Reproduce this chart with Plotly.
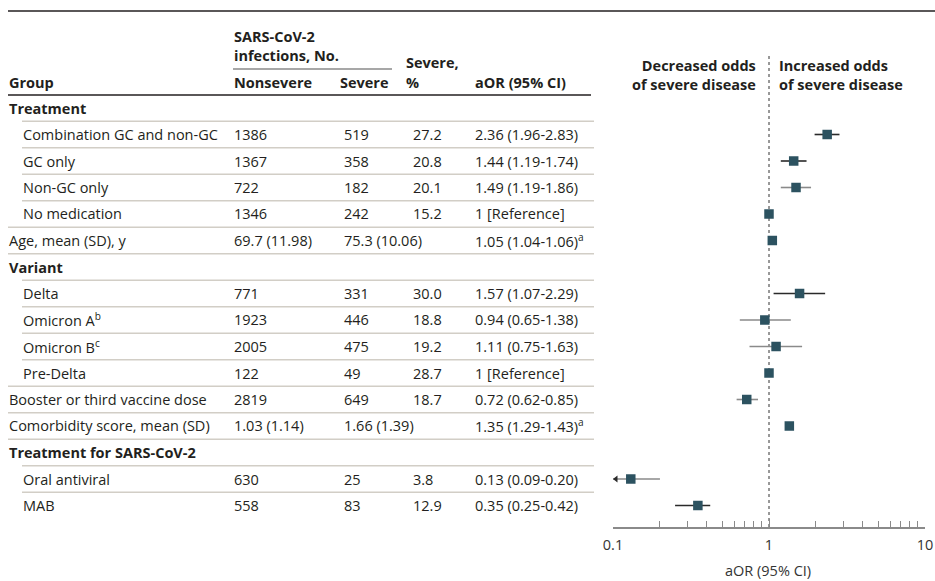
import plotly.graph_objects as go
import math

# ---------------- data ----------------
labels = ["Treatment", "Combination GC and non-GC", "GC only", "Non-GC only", "No medication",
          "Age, mean (SD), y", "Variant", "Delta", "Omicron A<sup>b</sup>", "Omicron B<sup>c</sup>",
          "Pre-Delta", "Booster or third vaccine dose", "Comorbidity score, mean (SD)",
          "Treatment for SARS-CoV-2", "Oral antiviral", "MAB"]
is_group = [1, 0, 0, 0, 0, 0, 1, 0, 0, 0, 0, 0, 0, 1, 0, 0]
indented = [0, 1, 1, 1, 1, 0, 0, 1, 1, 1, 1, 0, 0, 0, 1, 1]
nonsevere = ["", "1386", "1367", "722", "1346", "69.7 (11.98)", "", "771", "1923", "2005", "122",
             "2819", "1.03 (1.14)", "", "630", "558"]
severe = ["", "519", "358", "182", "242", "75.3 (10.06)", "", "331", "446", "475", "49",
          "649", "1.66 (1.39)", "", "25", "83"]
severe_pct = ["", "27.2", "20.8", "20.1", "15.2", "", "", "30.0", "18.8", "19.2", "28.7",
              "18.7", "", "", "3.8", "12.9"]
aor_text = ["", "2.36 (1.96-2.83)", "1.44 (1.19-1.74)", "1.49 (1.19-1.86)", "1 [Reference]",
            "1.05 (1.04-1.06)<sup>a</sup>", "", "1.57 (1.07-2.29)", "0.94 (0.65-1.38)",
            "1.11 (0.75-1.63)", "1 [Reference]", "0.72 (0.62-0.85)", "1.35 (1.29-1.43)<sup>a</sup>",
            "", "0.13 (0.09-0.20)", "0.35 (0.25-0.42)"]
aor = [None, 2.36, 1.44, 1.49, 1, 1.05, None, 1.57, 0.94, 1.11, 1, 0.72, 1.35, None, 0.13, 0.35]
ci_lo = [None, 1.96, 1.19, 1.19, None, 1.04, None, 1.07, 0.65, 0.75, None, 0.62, 1.29, None, 0.09, 0.25]
ci_hi = [None, 2.83, 1.74, 1.86, None, 1.06, None, 2.29, 1.38, 1.63, None, 0.85, 1.43, None, 0.20, 0.42]
x_ticks = [0.1, 1, 10]
x_tick_labels = ["0.1", "1", "10"]
x_minor = [0.2, 0.3, 0.4, 0.5, 0.6, 0.7, 0.8, 0.9, 2, 3, 4, 5, 6, 7, 8, 9]
axis_min, axis_max = 0.1, 10

# ---------------- styles ----------------
W, H = 935, 581
FONT = "Open Sans"
FS = 14.5
TXT = "#231f20"
MARK = "#2c5260"
ci_dark = [0, 1, 1, 0, 0, 1, 0, 1, 0, 0, 0, 0, 1, 0, 0, 1]
ROW0, ROWH = 108.0, 26.5   # pixel y of row 0 and row spacing
AX_Y = 527.0               # pixel y of x-axis line
TOP_Y = 55.0               # top of forest plot area


def py(p):
    return 1 - p / H


def px(p):
    return p / W


def row_pix(i):
    return ROW0 + ROWH * i


fig = go.Figure()

# reference dotted line
fig.add_trace(go.Scatter(x=[1, 1], y=[(56 - ROW0) / ROWH, (AX_Y - ROW0) / ROWH],
                         mode="lines", line=dict(color="#333333", width=1, dash="dot"),
                         hoverinfo="skip"))

# CI lines
for i, (lo, hi) in enumerate(zip(ci_lo, ci_hi)):
    if lo is None:
        continue
    col = "#2a2a2a" if ci_dark[i] else "#8a8a8a"
    lo_c = max(lo, axis_min)
    fig.add_trace(go.Scatter(x=[lo_c, hi], y=[i, i], mode="lines",
                             line=dict(color=col, width=1.6), hoverinfo="skip"))
    if lo < axis_min:
        fig.add_trace(go.Scatter(x=[axis_min * 1.045], y=[i], mode="markers",
                                 marker=dict(symbol="triangle-left", size=6, color="#2a2a2a"),
                                 cliponaxis=False, hoverinfo="skip"))

# point estimates
pts = [(v, i) for i, v in enumerate(aor) if v is not None]
fig.add_trace(go.Scatter(x=[p[0] for p in pts], y=[p[1] for p in pts], mode="markers",
                         marker=dict(symbol="square", size=9.5, color=MARK, line=dict(width=0)),
                         cliponaxis=False, hoverinfo="skip"))

ann = []
shapes = []


def txt(x, y, s, anchor="left", bold=False, size=FS, color=TXT, align="left"):
    ann.append(dict(x=px(x), y=py(y), xref="paper", yref="paper", text=(f"<b>{s}</b>" if bold else s),
                    showarrow=False, xanchor=anchor, yanchor="middle", align=align, borderpad=0,
                    font=dict(family=FONT, size=size, color=color)))


# header
txt(233, 46, "SARS-CoV-2<br>infections, No.", bold=True)
txt(405, 62, "Severe,", bold=True)
txt(8, 83, "Group", bold=True)
txt(233, 83, "Nonsevere", bold=True)
txt(339, 83, "Severe", bold=True)
txt(405, 83, "%", bold=True)
txt(474, 83, "aOR (95% CI)", bold=True)
txt(757, 74.5, "Decreased odds<br>of severe disease", anchor="right", bold=True, align="right")
txt(778, 74.5, "Increased odds<br>of severe disease", bold=True)

# rows
for i, lab in enumerate(labels):
    y = row_pix(i)
    txt(22 if indented[i] else 8, y, lab, bold=bool(is_group[i]))
    if nonsevere[i]:
        txt(233, y, nonsevere[i])
    if severe[i]:
        txt(343, y, severe[i])
    if severe_pct[i]:
        txt(412, y, severe_pct[i])
    if aor_text[i]:
        txt(474, y, aor_text[i])
    if i >= 1:
        ys = py(y - ROWH / 2)
        shapes.append(dict(type="line", xref="paper", yref="paper", x0=px(22 if indented[i] else 8),
                           x1=px(594), y0=ys, y1=ys, line=dict(color="#d2cec6", width=1.3)))

# rules
shapes.append(dict(type="line", xref="paper", yref="paper", x0=px(8), x1=1, y0=py(11), y1=py(11),
                   line=dict(color="#231f20", width=1.6)))
shapes.append(dict(type="line", xref="paper", yref="paper", x0=px(8), x1=px(591), y0=py(95), y1=py(95),
                   line=dict(color="#231f20", width=1.6)))
shapes.append(dict(type="line", xref="paper", yref="paper", x0=px(233), x1=px(392), y0=py(69), y1=py(69),
                   line=dict(color="#8a8a8a", width=1.4)))

# axis title
txt(768, 570, "aOR (95% CI)", anchor="center", color="#333333")

fig.update_layout(
    width=W, height=H, margin=dict(l=0, r=0, t=0, b=0, autoexpand=False),
    paper_bgcolor="white", plot_bgcolor="white", showlegend=False,
    annotations=ann, shapes=shapes,
    xaxis=dict(type="log", range=[math.log10(axis_min), math.log10(axis_max)],
               domain=[px(613), px(925)], showgrid=False, zeroline=False, automargin=False,
               showline=True, linecolor="#8a8a8a", linewidth=1.5,
               tickmode="array", tickvals=x_ticks, ticktext=x_tick_labels,
               ticks="inside", ticklen=8, tickwidth=1.3, tickcolor="#8a8a8a",
               ticklabelstandoff=4,
               tickfont=dict(family=FONT, size=FS, color="#333333"),
               minor=dict(tickmode="array", tickvals=x_minor, ticks="inside", ticklen=6,
                          tickwidth=1.2, tickcolor="#8a8a8a", showgrid=False),
               fixedrange=True),
    yaxis=dict(range=[(AX_Y - ROW0) / ROWH, (TOP_Y - ROW0) / ROWH], domain=[py(AX_Y), py(TOP_Y)],
               visible=False, fixedrange=True, automargin=False),
)

fig.write_html("out.html", config={"displayModeBar": False},
               post_script="document.body.style.margin='0';document.body.style.overflow='hidden';")
